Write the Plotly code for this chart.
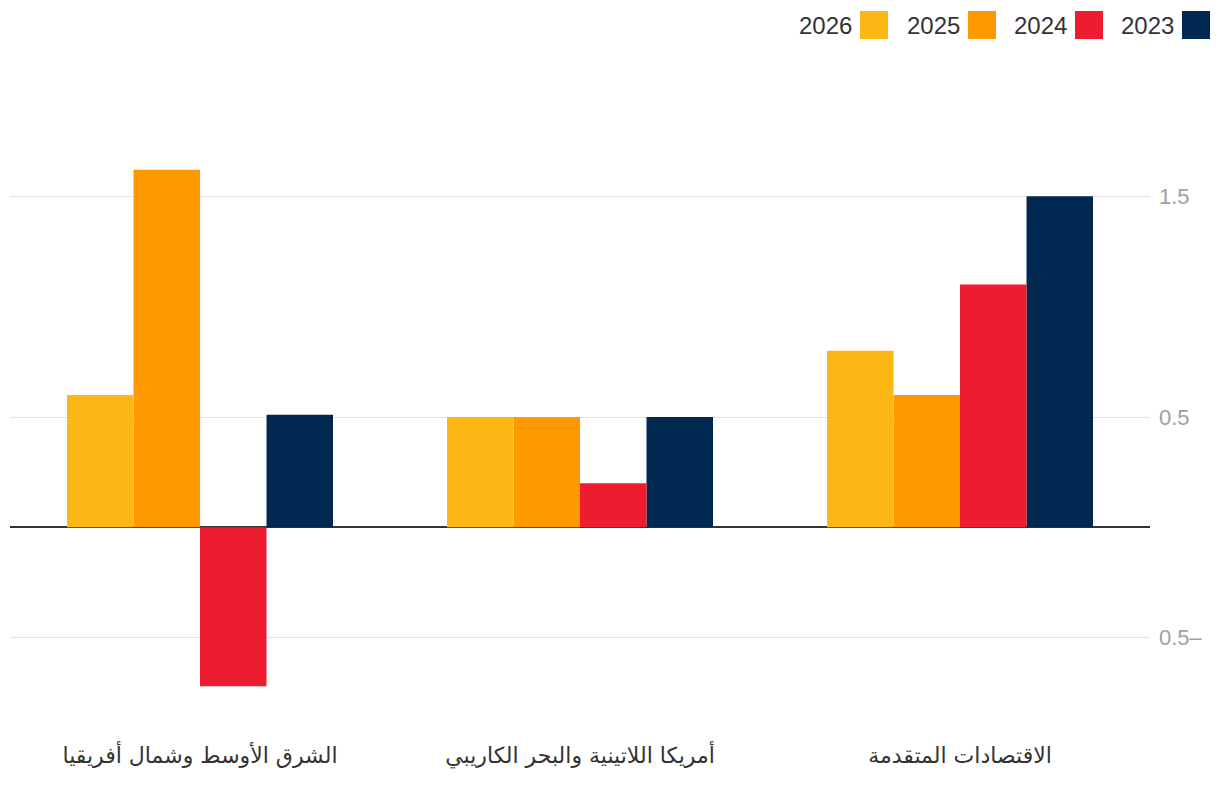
import plotly.graph_objects as go

categories = ["الاقتصادات المتقدمة", "أمريكا اللاتينية والبحر الكاريبي", "الشرق الأوسط وشمال أفريقيا"]
years = ["2023", "2024", "2025", "2026"]
v2023 = [1.5, 0.5, 0.51]
v2024 = [1.1, 0.2, -0.72]
v2025 = [0.6, 0.5, 1.62]
v2026 = [0.8, 0.5, 0.6]
colors = ["#012851", "#ed1c2e", "#ff9900", "#fdb714"]
tick_vals = [-0.5, 0.5, 1.5]
tick_text = ["0.5–", "0.5", "1.5"]

series = [v2023, v2024, v2025, v2026]

fig = go.Figure()
for name, vals, col in zip(years, series, colors):
    fig.add_trace(go.Bar(x=categories, y=vals, name=name, marker=dict(color=col, line=dict(width=0)),
                         showlegend=False))

# page has an 8px body offset; geometry below is in figure pixels
OFF = 8
W, H = 1212, 788
L, R, T, B = 10 - OFF, 1150 - OFF, 86 - OFF, 737 - OFF

def px_x(p):
    return (p - OFF - L) / (R - L)

def px_y(p):
    return (B - (p - OFF)) / (B - T)

legend_items = [("2026", "#fdb714", 860), ("2025", "#ff9900", 968), ("2024", "#ed1c2e", 1075), ("2023", "#012851", 1182)]
for label, col, sx in legend_items:
    fig.add_shape(type="rect", xref="paper", yref="paper",
                  x0=px_x(sx), x1=px_x(sx + 28), y0=px_y(39), y1=px_y(11),
                  fillcolor=col, line=dict(width=0))
    fig.add_annotation(xref="paper", yref="paper", x=px_x(sx - 6), y=px_y(26),
                       text=label, showarrow=False, xanchor="right", yanchor="middle",
                       font=dict(size=24, color="#333333", family="Liberation Sans, Arial, sans-serif"))

fig.update_layout(
    width=W, height=H,
    margin=dict(l=L, r=W - R, t=T, b=H - B),
    paper_bgcolor="white", plot_bgcolor="white",
    barmode="group", bargap=0.3, bargroupgap=0,
    font=dict(family="Liberation Sans, DejaVu Sans, Arial, sans-serif", size=20, color="#333333"),
    xaxis=dict(autorange="reversed", showgrid=False, showline=False, ticks="", ticklabelstandoff=3,
               tickfont=dict(size=22, color="#333333", family="DejaVu Sans, sans-serif")),
    yaxis=dict(side="right", range=[-0.95, 2.0], tickvals=tick_vals, ticktext=tick_text,
               showgrid=True, gridcolor="#e3e3e3", gridwidth=1,
               zeroline=True, zerolinecolor="#333333", zerolinewidth=2,
               showline=False, ticks="", ticklabelstandoff=8,
               tickfont=dict(size=22, color="#a0a0a0", family="Liberation Sans, Arial, sans-serif")),
)

fig.write_html("out.html")
